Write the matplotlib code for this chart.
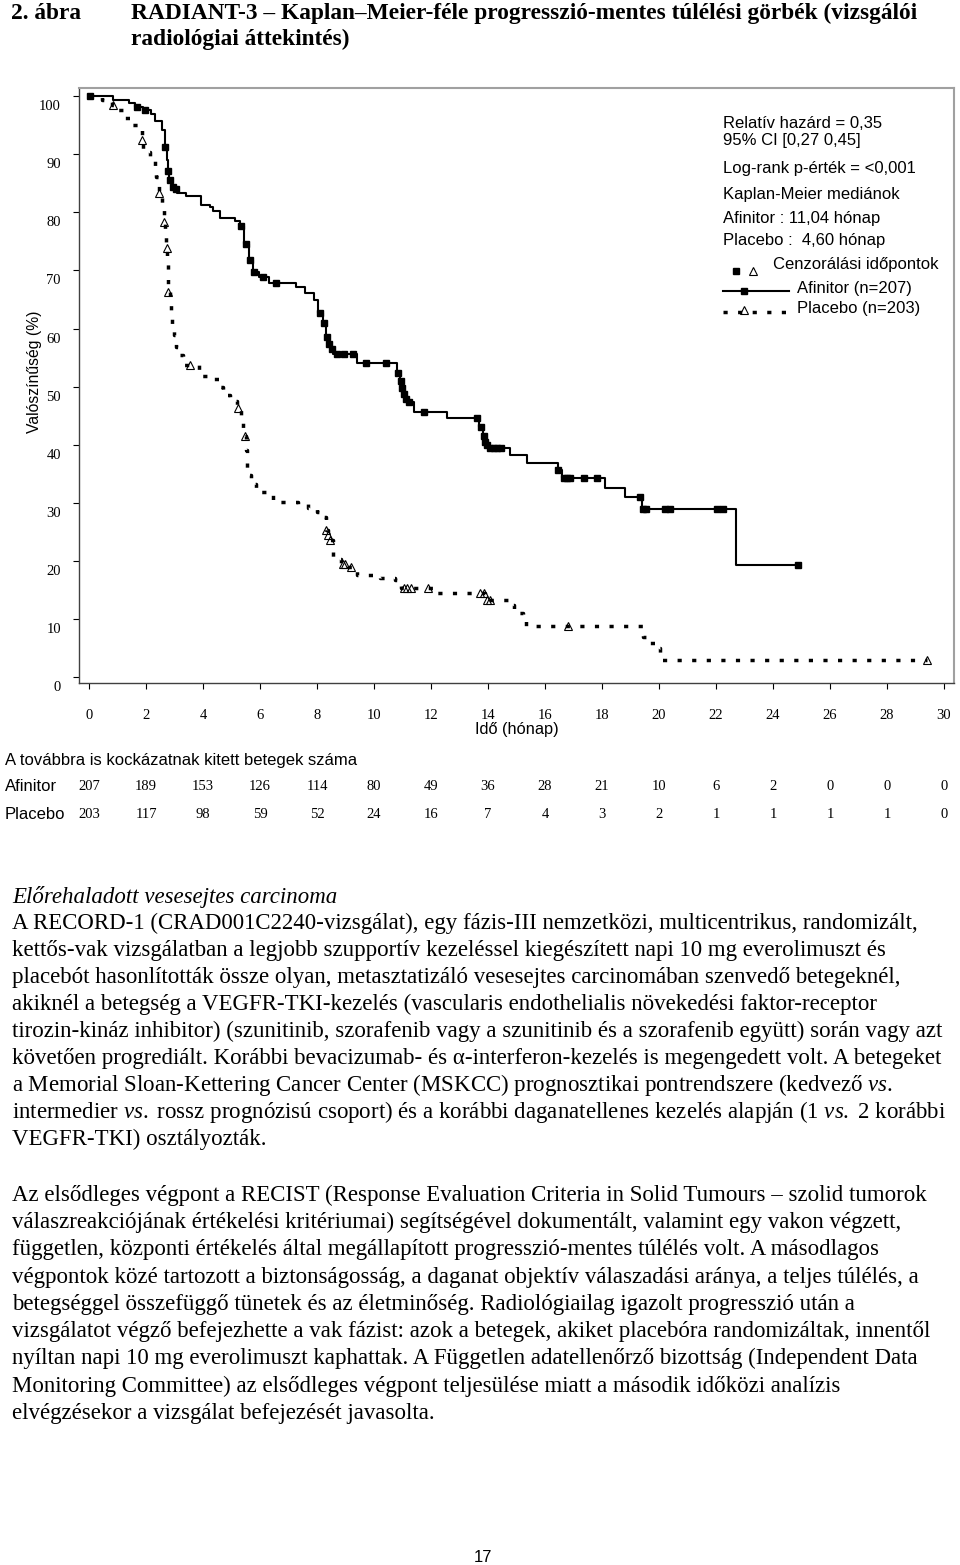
import numpy as np
import matplotlib
matplotlib.use('Agg')
import matplotlib.pyplot as plt
from matplotlib.lines import Line2D
from matplotlib.transforms import blended_transform_factory, ScaledTranslation

plt.rcParams['mathtext.fontset'] = 'custom'
plt.rcParams['mathtext.rm'] = 'Liberation Serif'
plt.rcParams['mathtext.it'] = 'Liberation Serif:italic'

SERIF = 'Liberation Serif'
SANS = 'Liberation Sans'

# --- data ---
# Afinitor KM steps (months, % PFS)
afi_t = [0, 0.84, 1.40, 1.60, 1.90, 2.19, 2.30, 2.57, 2.65, 2.72, 2.77, 2.82, 2.90, 3.00, 3.10,
         3.42, 3.94, 4.23, 4.35, 4.58, 5.11, 5.30, 5.45, 5.60, 5.75, 5.95, 6.30, 7.27, 7.57, 7.90,
         8.05, 8.20, 8.30, 8.40, 8.48, 8.55, 9.40, 10.80, 10.90, 10.98, 11.03, 11.10, 11.18, 11.40,
         12.55, 13.70, 13.82, 13.88, 13.93, 14.00, 14.76, 15.38, 16.45, 16.60, 18.09, 18.81, 19.40,
         22.70, 24.86]
afi_s = [100, 99.4, 98.8, 98.1, 97.6, 96.9, 95.8, 94.1, 91.3, 89.0, 87.1, 85.5, 84.4, 84.0, 83.4,
         82.8, 81.2, 80.9, 80.2, 79.1, 78.5, 77.7, 74.5, 71.8, 69.7, 68.9, 67.9, 67.1, 66.1, 64.9,
         62.7, 60.9, 58.6, 57.4, 56.5, 55.6, 54.1, 52.3, 51.0, 49.8, 48.7, 47.8, 47.4, 45.6,
         44.6, 43.0, 41.5, 40.5, 39.9, 39.5, 38.2, 36.9, 35.7, 34.2, 32.6, 31.0, 28.9,
         19.3, 19.3]
afi_cens = [0.05, 1.67, 1.96, 2.68, 2.79, 2.86, 2.96, 3.05, 5.35, 5.50, 5.65, 5.80, 6.09, 6.55,
            8.10, 8.25, 8.34, 8.43, 8.51, 8.70, 8.95, 9.25, 9.72, 10.42, 10.85, 10.95, 11.00, 11.05,
            11.13, 11.22, 11.75, 13.62, 13.75, 13.85, 13.90, 13.96, 14.06, 14.20, 14.32, 14.45,
            16.47, 16.65, 16.78, 16.88, 17.36, 17.82, 19.34, 19.45, 19.55, 20.22, 20.38, 22.02,
            22.25, 24.86]

# Placebo KM steps
pla_t = [0, 0.45, 0.80, 0.97, 1.20, 1.43, 1.82, 1.86, 1.90, 2.14, 2.31, 2.35, 2.45, 2.55, 2.62,
         2.67, 2.71, 2.74, 2.77, 2.79, 2.84, 2.88, 2.93, 2.98, 3.05, 3.13, 3.31, 3.85, 4.30, 4.60,
         4.71, 4.95, 5.20, 5.33, 5.42, 5.45, 5.52, 5.54, 5.56, 5.70, 5.85, 6.23, 6.47, 7.34, 7.67,
         7.99, 8.25, 8.30, 8.38, 8.45, 8.55, 8.85, 9.10, 9.39, 10.21, 10.74, 10.95, 12.14, 13.90,
         14.77, 14.92, 15.24, 15.34, 19.43, 19.70, 19.90, 20.02, 29.40]
pla_s = [100, 99.4, 98.5, 97.6, 96.2, 95.0, 94.5, 92.4, 90.4, 89.6, 87.5, 86.0, 83.4, 80.7, 78.3,
         76.1, 73.9, 72.0, 68.6, 66.3, 64.3, 62.5, 60.6, 58.9, 56.9, 55.4, 53.8, 51.8, 51.3, 50.0,
         48.5, 47.6, 46.3, 44.2, 42.8, 41.5, 39.1, 36.8, 34.8, 33.3, 31.9, 31.3, 30.2, 29.8, 29.2,
         28.5, 27.5, 25.3, 24.5, 23.6, 20.4, 19.4, 19.0, 17.6, 17.0, 16.8, 15.4, 14.5, 13.3,
         12.5, 11.1, 10.4, 8.8, 6.9, 5.9, 5.0, 2.9, 2.9]
pla_cens = [0.84, 1.87, 2.47, 2.63, 2.72, 2.79, 3.54, 5.24, 5.46, 8.31, 8.40, 8.47, 8.90, 9.00,
            9.19, 11.05, 11.15, 11.30, 11.90, 13.72, 13.85, 13.95, 14.06, 16.80, 29.40]

months = list(range(0, 31, 2))
yticks = list(range(0, 101, 10))
afi_risk = [207, 189, 153, 126, 114, 80, 49, 36, 28, 21, 10, 6, 2, 0, 0, 0]
pla_risk = [203, 117, 98, 59, 52, 24, 16, 7, 4, 3, 2, 1, 1, 1, 1, 0]

stats_text = ['Relatív hazárd = 0,35', '95% CI [0,27 0,45]', 'Log-rank p-érték = <0,001',
              'Kaplan-Meier mediánok', 'Afinitor : 11,04 hónap', 'Placebo :  4,60 hónap']
stats_y = [123, 141, 168, 194, 218, 240]

body = [
    ('Előrehaladott vesesejtes carcinoma', 'italic'),
    ('A RECORD-1 (CRAD001C2240-vizsgálat), egy fázis-III nemzetközi, multicentrikus, randomizált,', 'normal'),
    ('kettős-vak vizsgálatban a legjobb szupportív kezeléssel kiegészített napi 10 mg everolimuszt és', 'normal'),
    ('placebót hasonlították össze olyan, metasztatizáló vesesejtes carcinomában szenvedő betegeknél,', 'normal'),
    ('akiknél a betegség a VEGFR-TKI-kezelés (vascularis endothelialis növekedési faktor-receptor', 'normal'),
    ('tirozin-kináz inhibitor) (szunitinib, szorafenib vagy a szunitinib és a szorafenib együtt) során vagy azt', 'normal'),
    ('követően progrediált. Korábbi bevacizumab- és α-interferon-kezelés is megengedett volt. A betegeket', 'normal'),
    ('a Memorial Sloan-Kettering Cancer Center (MSKCC) prognosztikai pontrendszere (kedvező $\\mathit{vs.}$', 'normal'),
    ('intermedier $\\mathit{vs.}$ rossz prognózisú csoport) és a korábbi daganatellenes kezelés alapján (1 $\\mathit{vs.}$ 2 korábbi', 'normal'),
    ('VEGFR-TKI) osztályozták.', 'normal'),
    ('Az elsődleges végpont a RECIST (Response Evaluation Criteria in Solid Tumours – szolid tumorok', 'normal'),
    ('válaszreakciójának értékelési kritériumai) segítségével dokumentált, valamint egy vakon végzett,', 'normal'),
    ('független, központi értékelés által megállapított progresszió-mentes túlélés volt. A másodlagos', 'normal'),
    ('végpontok közé tartozott a biztonságosság, a daganat objektív válaszadási aránya, a teljes túlélés, a', 'normal'),
    ('betegséggel összefüggő tünetek és az életminőség. Radiológiailag igazolt progresszió után a', 'normal'),
    ('vizsgálatot végző befejezhette a vak fázist: azok a betegek, akiket placebóra randomizáltak, innentől', 'normal'),
    ('nyíltan napi 10 mg everolimuszt kaphattak. A Független adatellenőrző bizottság (Independent Data', 'normal'),
    ('Monitoring Committee) az elsődleges végpont teljesülése miatt a második időközi analízis', 'normal'),
    ('elvégzésekor a vizsgálat befejezését javasolta.', 'normal'),
]
body_base = [903, 929, 956, 983, 1010, 1037, 1064, 1091, 1118, 1145,
             1201, 1228, 1255, 1283, 1310, 1337, 1364, 1392, 1419]

W, H = 960, 1565
def fx(px): return px / W
def fy(py): return 1 - py / H

def surv_at(t, s, times):
    idx = np.searchsorted(t, times, side='right') - 1
    return np.asarray(s)[idx]

fig = plt.figure(figsize=(W / 100, H / 100), dpi=100)
fig.patch.set_facecolor('white')

# title
fig.text(fx(11), fy(19), '2. ábra', family=SERIF, weight='bold', fontsize=16.8, va='baseline')
fig.text(fx(131), fy(19), 'RADIANT-3 – Kaplan–Meier-féle progresszió-mentes túlélési görbék (vizsgálói',
         family=SERIF, weight='bold', fontsize=16.8, va='baseline')
fig.text(fx(131), fy(45), 'radiológiai áttekintés)', family=SERIF, weight='bold', fontsize=16.8, va='baseline')

# KM axes
ax = fig.add_axes([fx(79), fy(683), fx(954) - fx(79), fy(88) - fy(683)])
ax.plot(afi_t, afi_s, drawstyle='steps-post', color='black', lw=1.5)
ax.plot(afi_cens, surv_at(afi_t, afi_s, afi_cens), 's', color='black', ms=4.5)
ax.plot(pla_t, pla_s, drawstyle='steps-post', color='black', lw=2.5,
        linestyle=(0, (1.2, 3.0)), dash_capstyle='butt')
ax.plot(pla_cens, surv_at(pla_t, pla_s, pla_cens), '^', mfc='none', mec='black', ms=6, mew=0.8)

ax.set_xlim(-0.35, 30.35)
ax.set_ylim(-1.0, 101.4)
ax.set_xticks(months)
ax.set_yticks(yticks)
ax.tick_params(axis='x', direction='out', length=4, width=0.8, pad=15, labelsize=10.5)
ax.tick_params(axis='y', direction='out', length=4, width=0.8, pad=9, labelsize=10.5)
for lab in ax.get_xticklabels() + ax.get_yticklabels():
    lab.set_family(SERIF)
offset = ScaledTranslation(0, -0.09, fig.dpi_scale_trans)
for lab in ax.get_yticklabels():
    lab.set_transform(lab.get_transform() + offset)
for side in ['left', 'bottom']:
    ax.spines[side].set_color('#404040')
    ax.spines[side].set_linewidth(1.0)
for side in ['top', 'right']:
    ax.spines[side].set_color('#a0a0a0')
    ax.spines[side].set_linewidth(1.5)
ax.set_xlabel('Idő (hónap)', family=SANS, fontsize=11.8, labelpad=0)
fig.text(fx(35), fy(372), 'Valószínűség (%)', family=SANS, fontsize=11.3, rotation=90,
         ha='center', va='center')

# stats / legend block
for s, y in zip(stats_text, stats_y):
    fig.text(fx(723), fy(y), s, family=SANS, fontsize=12, va='center')
fig.text(fx(773), fy(264), 'Cenzorálási időpontok', family=SANS, fontsize=12, va='center')
fig.text(fx(797), fy(289), 'Afinitor (n=207)', family=SANS, fontsize=12, va='center')
fig.text(fx(797), fy(309), 'Placebo (n=203)', family=SANS, fontsize=12, va='center')
fig.add_artist(Line2D([fx(736)], [fy(271)], marker='s', color='black', ms=4.5, ls='none'))
fig.add_artist(Line2D([fx(753)], [fy(271)], marker='^', mfc='none', mec='black', ms=6, mew=0.8, ls='none'))
fig.add_artist(Line2D([fx(723), fx(789)], [fy(291), fy(291)], color='black', lw=1.5))
fig.add_artist(Line2D([fx(744)], [fy(291)], marker='s', color='black', ms=4.5, ls='none'))
fig.add_artist(Line2D([fx(723), fx(789)], [fy(312), fy(312)], color='black', lw=2.5,
                      linestyle=(0, (1.2, 3.0)), dash_capstyle='butt'))
fig.add_artist(Line2D([fx(744)], [fy(310)], marker='^', mfc='none', mec='black', ms=6, mew=0.8, ls='none'))

# number at risk
fig.text(fx(5), fy(760), 'A továbbra is kockázatnak kitett betegek száma', family=SANS, fontsize=12, va='center')
fig.text(fx(5), fy(787), 'Afinitor', family=SANS, fontsize=12, va='center')
fig.text(fx(5), fy(814), 'Placebo', family=SANS, fontsize=12, va='center')
tr = blended_transform_factory(ax.transData, fig.transFigure)
for m, a, p in zip(months, afi_risk, pla_risk):
    fig.text(m, fy(787), str(a), transform=tr, family=SERIF, fontsize=10.5, ha='center', va='center')
    fig.text(m, fy(814), str(p), transform=tr, family=SERIF, fontsize=10.5, ha='center', va='center')

# body text
for (line, style), y in zip(body, body_base):
    fig.text(fx(12), fy(y), line, family=SERIF, style=style, fontsize=16.5, va='baseline')

fig.text(fx(483), fy(1557), '17', family=SANS, fontsize=12, ha='center', va='center')

fig.savefig('out.png', dpi=100)
